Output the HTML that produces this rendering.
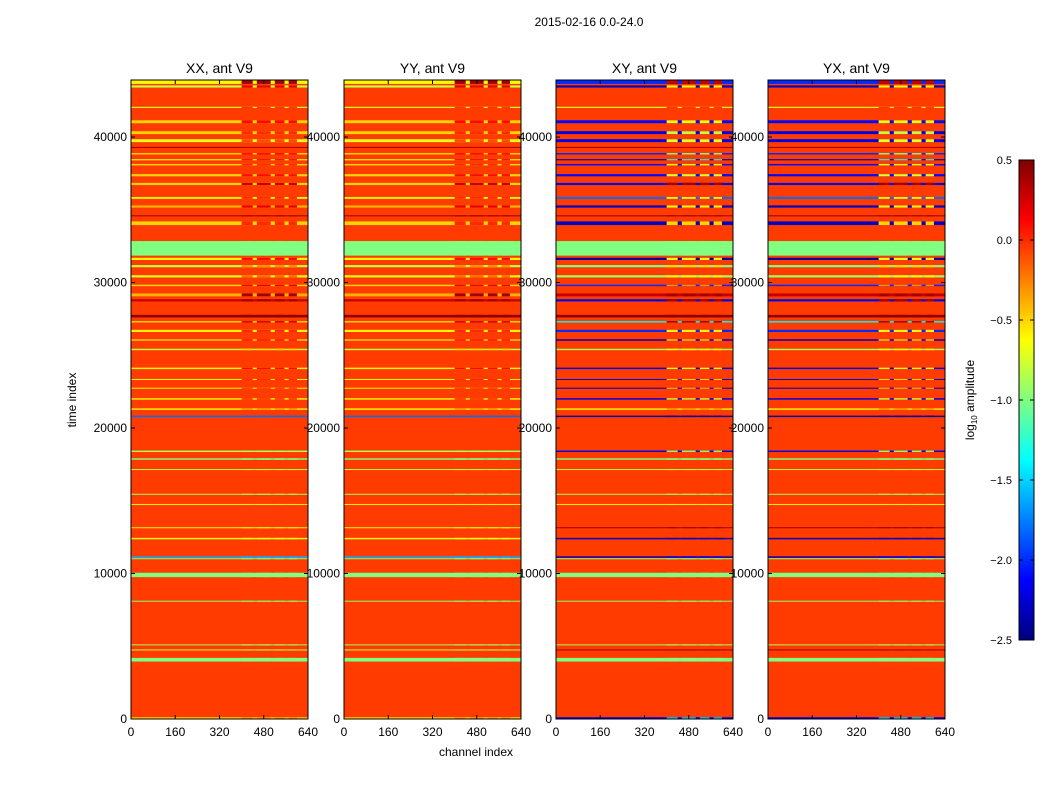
<!DOCTYPE html>
<html><head><meta charset="utf-8"><style>
body{margin:0;background:#fff;font-family:"Liberation Sans","DejaVu Sans",sans-serif;}
svg text{font-family:"Liberation Sans","DejaVu Sans",sans-serif;}
</style></head><body>
<svg id="chart" width="1050" height="800" viewBox="0 0 1050 800" xmlns="http://www.w3.org/2000/svg">
<rect width="1050" height="800" fill="#fff"/>
<defs>
<linearGradient id="jetgrad" x1="0" y1="1" x2="0" y2="0">
<stop offset="0" stop-color="#00007f"/><stop offset="0.125" stop-color="#0000ff"/><stop offset="0.375" stop-color="#00ffff"/><stop offset="0.625" stop-color="#ffff00"/><stop offset="0.875" stop-color="#ff0000"/><stop offset="1" stop-color="#7f0000"/>
</linearGradient>
</defs>
<text x="589" y="26" font-size="12" text-anchor="middle">2015-02-16 0.0-24.0</text>
<text x="76" y="400" font-size="12" text-anchor="middle" transform="rotate(-90 76 400)">time index</text>
<text x="476" y="756" font-size="12" text-anchor="middle">channel index</text>
<g id="panels"></g>
<g id="cbar">
<rect x="1019" y="160" width="15" height="480" fill="url(#jetgrad)" stroke="#000" stroke-width="1"/>
<text x="974" y="400" font-size="12" text-anchor="middle" transform="rotate(-90 974 400)">log<tspan font-size="8" dy="3">10</tspan><tspan dy="-3"> amplitude</tspan></text>
</g>
</svg>
<script>
const panelTitles = ["XX, ant V9","YY, ant V9","XY, ant V9","YX, ant V9"];
const xTicks = [0,160,320,480,640];
const yTicks = [0,10000,20000,30000,40000];
const cbarTicks = [0.5,0.0,-0.5,-1.0,-1.5,-2.0,-2.5];
const defaultValue = -0.05;
// time bands: start, end
const bandStart = [43650,43400,42000,40950,40200,39650,39250,38800,38400,38050,37300,36700,35750,35150,34550,33950,31850,31550,31050,30350,29750,29050,28700,27600,27250,26600,26000,25350,24050,23300,22700,21950,21250,20750,18350,17820,17120,15420,14720,13120,12350,11080,10980,9750,8070,5070,4720,3950,0];
const bandEnd   = [43900,43550,42080,41150,40400,39850,39320,38900,38480,38150,37450,36850,35880,35300,34620,34200,32850,31700,31200,30500,29850,29250,28850,27780,27350,26750,26100,25450,24150,23370,22770,22050,21350,20850,18450,17920,17180,15480,14780,13180,12450,11180,11050,10050,8130,5130,4780,4200,120];
// values for parallel hands (XX,YY) and cross hands (XY,YX)
const parVal    = [-0.6,-0.8,-0.7,-0.5,-0.5,-0.7,0.4,-0.5,-0.6,-0.5,-0.5,-0.5,-0.6,-0.4,0.4,-0.5,-1.0,-0.6,-0.8,-0.7,-0.5,-0.4,0.3,0.45,-0.5,-0.6,-0.5,-0.8,-0.6,-0.6,-0.6,-0.6,-0.6,-1.8,-0.9,-1.0,-0.8,-0.9,-0.6,-0.6,-0.7,-1.6,-1.0,-1.0,-1.0,-0.9,-0.8,-1.0,-0.5];
const crossVal  = [-2.0,-2.3,-0.7,-2.1,-2.2,-2.2,0.4,-2.0,-2.3,-2.1,-2.1,-2.2,-1.8,-2.3,0.4,-2.3,-1.0,-2.4,-1.0,-0.9,-2.0,0.3,-2.2,0.45,-1.4,-2.0,-2.3,-0.9,-2.2,-2.3,-2.3,-2.2,-0.6,-2.4,-2.2,-1.0,-0.8,-0.9,-0.6,0.4,-2.3,-2.4,-1.0,-1.0,-1.0,-0.9,0.4,-1.0,-2.2];
// values inside the RFI burst channels (400-600)
const burstPar  = [0.4,0.2,0.0,0.1,0.0,-0.1,0.3,0.1,0.2,0.0,0.1,0.3,0.0,0.2,0.4,0.0,-1.0,0.1,-0.3,-0.2,0.2,0.4,0.4,0.45,0.3,0.0,0.1,-0.5,0.1,0.0,0.0,0.0,-0.3,-1.8,-0.9,-1.0,-0.8,-0.9,-0.6,-0.6,-0.7,-1.6,-1.0,-1.0,-1.0,-0.9,-0.8,-1.0,-0.3];
const burstCross= [0.3,-0.6,0.0,-0.6,-0.8,-0.7,0.3,-1.0,-1.2,-0.6,-0.7,0.4,-0.6,-0.6,0.4,-0.5,-1.0,-0.7,-0.5,-0.6,-0.3,0.4,0.4,0.45,0.4,-0.6,-0.5,-0.6,-0.6,-0.5,-0.5,-0.7,-0.3,-2.4,-1.0,-1.0,-0.8,-0.9,-0.6,0.4,-2.3,-2.2,-1.0,-1.0,-1.0,-0.9,0.4,-1.0,-1.5];
const burstCols = [[400,440],[455,505],[520,555],[570,600]];

const panelX = [131,344,556,768], PW=177, PT=80, PB=719, TMAX=43920;
const xs = c => c/640*PW;
const ys = t => PB - t/TMAX*(PB-PT);
const cy = v => 160 + (0.5-v)/3*480;
function jet(v){
  let x=(v+2.5)/3; x=Math.max(0,Math.min(1,x));
  const f=a=>Math.round(255*Math.max(0,Math.min(1,1.5-Math.abs(4*x-a))));
  return `rgb(${f(3)},${f(2)},${f(1)})`;
}
const NS="http://www.w3.org/2000/svg";
function mk(tag,attrs,parent){const e=document.createElementNS(NS,tag);for(const k in attrs)e.setAttribute(k,attrs[k]);parent.appendChild(e);return e;}
const root=document.getElementById('panels');
panelTitles.forEach((title,p)=>{
  const g=mk('g',{},root);
  
  
  const x0=panelX[p];
  const cross=p>=2;
  const bg=mk('rect',{x:x0,y:PT,width:PW,height:PB-PT,fill:jet(defaultValue)},g);
  
  
  for(let i=0;i<bandStart.length;i++){
    const y1=ys(bandEnd[i]), y2=ys(bandStart[i]);
    const h=Math.max(1,y2-y1);
    const r=mk('rect',{x:x0,y:y1,width:PW,height:h,fill:jet(cross?crossVal[i]:parVal[i])},g);
    
    
    burstCols.forEach(bc=>{
      const b=mk('rect',{x:x0+xs(bc[0]),y:y1,width:xs(bc[1]-bc[0]),height:h,fill:jet(cross?burstCross[i]:burstPar[i])},g);
      
      
    });
  }
  mk('rect',{x:x0,y:PT,width:PW,height:PB-PT,fill:'none',stroke:'#000','stroke-width':1},g);
  const t=mk('text',{x:x0+PW/2,y:73,'font-size':14,'text-anchor':'middle'},g);
  t.textContent=title;
  
  
  xTicks.forEach(v=>{
    const X=x0+xs(v);
    mk('line',{x1:X,x2:X,y1:PB,y2:PB-4,stroke:'#000'},g);
    mk('line',{x1:X,x2:X,y1:PT,y2:PT+4,stroke:'#000'},g);
    const l=mk('text',{x:X,y:PB+17,'font-size':12,'text-anchor':'middle'},g);
    l.textContent=v;
    
    
  });
  yTicks.forEach(v=>{
    const Y=ys(v);
    mk('line',{x1:x0,x2:x0+4,y1:Y,y2:Y,stroke:'#000'},g);
    mk('line',{x1:x0+PW,x2:x0+PW-4,y1:Y,y2:Y,stroke:'#000'},g);
    const l=mk('text',{x:x0-4,y:Y+4,'font-size':12,'text-anchor':'end'},g);
    l.textContent=v;
    
    
  });
});
const cb=document.getElementById('cbar');
cbarTicks.forEach(v=>{
  const Y=cy(v);
  mk('line',{x1:1019,x2:1023,y1:Y,y2:Y,stroke:'#000'},cb);
  mk('line',{x1:1030,x2:1034,y1:Y,y2:Y,stroke:'#000'},cb);
  const l=mk('text',{x:1012,y:Y+4,'font-size':11,'text-anchor':'end'},cb);
  l.textContent=v.toFixed(1).replace('-','\u2212');
  
  
});
</script>
</body></html>
